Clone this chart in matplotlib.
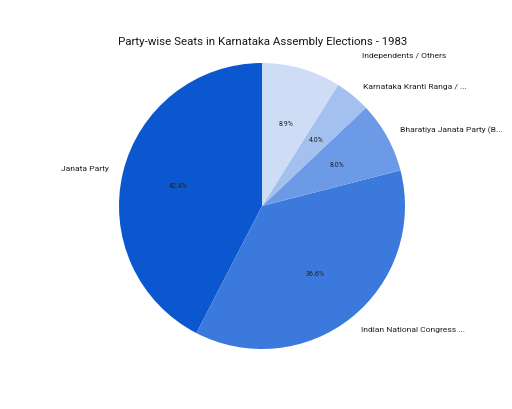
import matplotlib
matplotlib.use("Agg")
import matplotlib.pyplot as plt

parties = ["Janata Party", "Indian National Congress ...", "Bharatiya Janata Party (B...",
           "Karnataka Kranti Ranga / ...", "Independents / Others"]
seats = [95, 82, 18, 9, 20]
colors = ["#0b57d0", "#3c79dc", "#6d9ae6", "#a4c0ef", "#cfdcf5"]

# where the outside labels sit (pie radius units), like the google chart layout
label_pos = [(-1.07, 0.265, "right"), (0.69, -0.86, "left"), (0.965, 0.54, "left"),
             (0.706, 0.84, "left"), (0.70, 1.056, "left")]

plt.rcParams['font.family'] = ['Roboto', 'DejaVu Sans']

fig = plt.figure(figsize=(5.12, 4.10), dpi=100)
ax = fig.add_axes([0.2324, 0.1463, 0.5586, 0.6976])

wedges, texts, autotexts = ax.pie(seats, labels=parties, colors=colors, startangle=90,
                                  counterclock=True, autopct='%1.1f%%', pctdistance=0.6,
                                  wedgeprops=dict(linewidth=0),
                                  textprops=dict(fontsize=6, color='#222222'))
for t, (x, y, ha) in zip(texts, label_pos):
    t.set_position((x, y))
    t.set_ha(ha)
    t.set_va('center')
    t.set_fontsize(6.1)
for a in autotexts:
    a.set_fontsize(5)

ax.set_xlim(-1, 1)
ax.set_ylim(-1, 1)
ax.set_aspect('equal')

fig.text(0.512, 0.898, "Party-wise Seats in Karnataka Assembly Elections - 1983",
         ha='center', va='center', fontsize=8.25, color='#1a1a1a')

fig.savefig('out.png', dpi=100, facecolor='white')
